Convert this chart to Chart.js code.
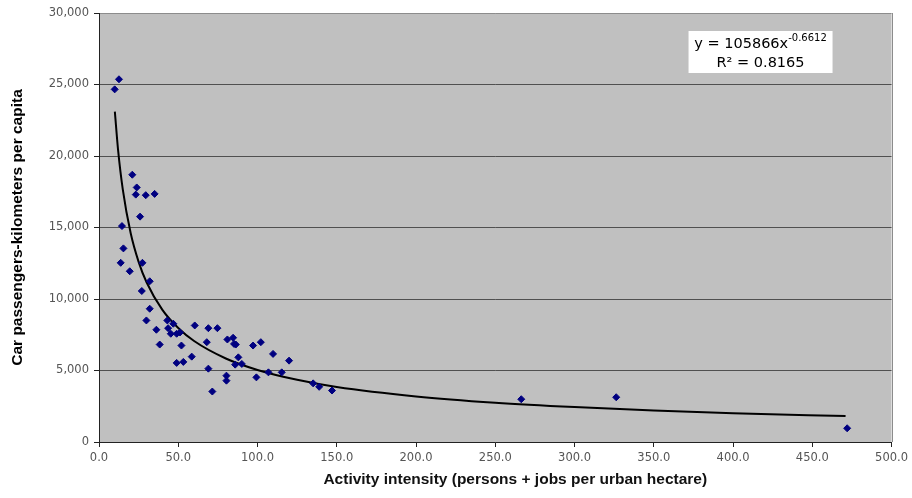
<!DOCTYPE html>
<html>
<head>
<meta charset="utf-8">
<script src="https://cdn.jsdelivr.net/npm/chart.js@4.4.0/dist/chart.umd.min.js"></script>
<style>
  html, body { margin: 0; padding: 0; background: #fff; }
  #wrap { width: 912px; height: 498px; }
</style>
</head>
<body>
<div id="wrap"><canvas id="grafico_intensidade"></canvas></div>
<script>
// observed cities: activity intensity vs car passenger-km per capita
const intensidade = [
    9.9, 12.6, 21.0, 23.8, 23.2, 29.5, 35.1, 25.9, 14.5, 15.4,
    13.7, 27.4, 19.4, 32.0, 27.0, 32.0, 29.9, 36.2, 43.1, 43.6,
    46.9, 45.3, 49.0, 51.1, 38.3, 52.0, 60.4, 69.0, 68.0, 58.5,
    49.0, 53.2, 69.0, 74.7, 71.5, 81.0, 84.6, 85.2, 86.3, 87.9,
    85.9, 90.1, 80.4, 80.4, 97.2, 102.1, 99.3, 109.8, 106.9, 115.3,
    119.9, 135.1, 138.9, 147.0, 266.4, 326.3, 472.0,
];
const km_per_capita = [
    24660, 25365, 18690, 17800, 17300, 17260, 17350, 15760, 15100, 13540,
    12530, 12530, 11940, 11240, 10560, 9320, 8500, 7850, 8500, 7960,
    8270, 7570, 7570, 7660, 6815, 6745, 8150, 7960, 6980, 5970,
    5530, 5600, 5130, 7960, 3530, 7170, 7290, 6860, 6815, 5920,
    5410, 5460, 4640, 4290, 6745, 6980, 4520, 6160, 4870, 4870,
    5690, 4100, 3860, 3600, 2990, 3130, 960,
];

// power trendline
const tendencia_x = [10, 12, 15, 20, 25, 30, 40, 50, 60, 80, 100, 125, 150, 200, 250, 300, 350, 400, 471];
const tendencia_y = [23100, 20470, 17670, 14600, 12600, 11170, 9235, 7970, 7060, 5840, 5040, 4350, 3850, 3190, 2750, 2440, 2200, 2015, 1810];

const x_ticks = [0, 50, 100, 150, 200, 250, 300, 350, 400, 450, 500];
const y_ticks = [0, 5000, 10000, 15000, 20000, 25000, 30000];

const titulo_x = "Activity intensity (persons + jobs per urban hectare)";
const titulo_y = "Car passengers-kilometers per capita";
const equacao = "y = 105866x";
const expoente = "-0.6612";
const r2 = "R\u00b2 = 0.8165";

const pontos = intensidade.map((x, i) => ({ x: x, y: km_per_capita[i] }));
const curva = tendencia_x.map((x, i) => ({ x: x, y: tendencia_y[i] }));

// gray plot area, right border, x title and the equation box
const area_plot = {
    id: "area_plot",
    beforeDraw(chart) {
        const { ctx, chartArea: a } = chart;
        ctx.save();
        ctx.fillStyle = "#c0c0c0";
        ctx.fillRect(a.left, a.top, a.right - a.left, a.bottom - a.top);
        ctx.restore();
    },
    afterDraw(chart) {
        const { ctx, chartArea: a } = chart;
        ctx.save();
        ctx.strokeStyle = "#8c8c8c";
        ctx.lineWidth = 1;
        ctx.beginPath();
        ctx.moveTo(Math.round(a.right) + 0.5, a.top);
        ctx.lineTo(Math.round(a.right) + 0.5, a.bottom);
        ctx.stroke();

        // x title sits a bit right of the plot centre, like the original
        ctx.fillStyle = "#111";
        ctx.font = "bold 15.5px 'Liberation Sans'";
        ctx.textAlign = "center";
        ctx.textBaseline = "middle";
        ctx.fillText(titulo_x, (a.left + a.right) / 2 + 20, chart.height - 18);

        const bx = a.right - 203;
        const by = a.top + 18;
        const bw = 144;
        const bh = 42;
        ctx.fillStyle = "#ffffff";
        ctx.fillRect(bx, by, bw, bh);

        ctx.fillStyle = "#000";
        ctx.textBaseline = "alphabetic";
        ctx.font = "14.5px 'DejaVu Sans'";
        const w1 = ctx.measureText(equacao).width;
        ctx.font = "10px 'DejaVu Sans'";
        const w2 = ctx.measureText(expoente).width;
        let x0 = bx + (bw - w1 - w2) / 2;
        ctx.font = "14.5px 'DejaVu Sans'";
        ctx.textAlign = "left";
        ctx.fillText(equacao, x0, by + 17);
        ctx.font = "10px 'DejaVu Sans'";
        ctx.fillText(expoente, x0 + w1, by + 10);
        ctx.font = "14.5px 'DejaVu Sans'";
        ctx.textAlign = "center";
        ctx.fillText(r2, bx + bw / 2, by + 36);
        ctx.restore();
    },
};

new Chart("grafico_intensidade", {
    type: "scatter",
    data: {
        datasets: [
            {
                label: "Cities",
                data: pontos,
                pointStyle: "rectRot",
                pointRadius: 3.5,
                backgroundColor: "#000080",
                borderColor: "#000080",
                borderWidth: 1,
            },
            {
                label: "Power trend",
                data: curva,
                showLine: true,
                pointRadius: 0,
                borderColor: "#000",
                borderWidth: 2,
                cubicInterpolationMode: "monotone",
            },
        ],
    },
    options: {
        responsive: true,
        maintainAspectRatio: false,
        animation: false,
        layout: {
            padding: { left: 0, top: 13, right: 20, bottom: 0 },
        },
        plugins: {
            legend: { display: false },
            tooltip: { enabled: false },
        },
        scales: {
            x: {
                type: "linear",
                min: 0,
                max: 500,
                afterBuildTicks: (scale) => {
                    scale.ticks = x_ticks.map((v) => ({ value: v }));
                },
                afterFit: (scale) => {
                    scale.height = 56;
                },
                grid: {
                    drawOnChartArea: false,
                    drawTicks: true,
                    tickLength: 5,
                    tickColor: "#222",
                },
                border: { color: "#222", width: 1 },
                ticks: {
                    padding: 4,
                    color: "#555",
                    maxRotation: 0,
                    autoSkip: false,
                    font: { family: "DejaVu Sans", size: 11.5 },
                    callback: (value) => value.toFixed(1),
                },
            },
            y: {
                min: 0,
                max: 30000,
                afterBuildTicks: (scale) => {
                    scale.ticks = y_ticks.map((v) => ({ value: v }));
                },
                afterFit: (scale) => {
                    scale.width = 99;
                },
                grid: {
                    color: (ctx) => (ctx.tick && ctx.tick.value === 30000 ? "#8c8c8c" : "#505050"),
                    drawTicks: true,
                    tickLength: 5,
                    tickColor: "#222",
                },
                border: { color: "#222", width: 1 },
                ticks: {
                    padding: 5,
                    color: "#555",
                    font: { family: "DejaVu Sans", size: 11.5 },
                    callback: (value) => value.toLocaleString("en-US"),
                },
                title: {
                    display: true,
                    text: titulo_y,
                    color: "#000",
                    font: { family: "Liberation Sans", size: 15.5, weight: "bold" },
                    padding: { top: 8, bottom: 0 },
                },
            },
        },
    },
    plugins: [area_plot],
});
</script>
</body>
</html>
